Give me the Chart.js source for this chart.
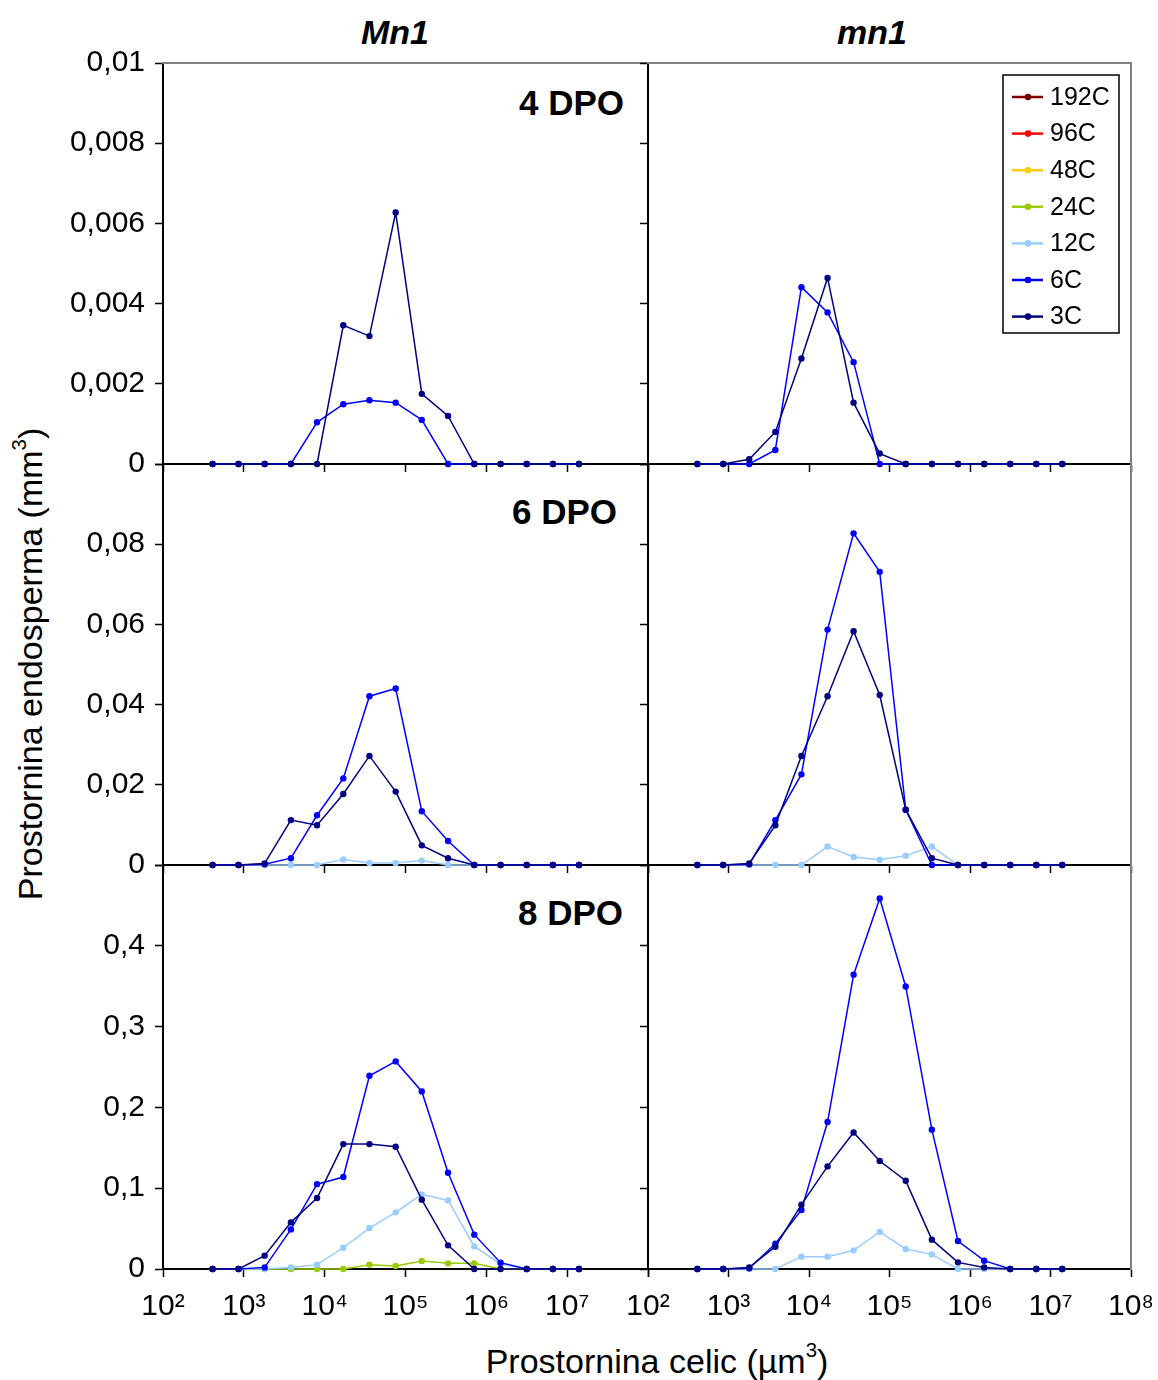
<!DOCTYPE html>
<html>
<head>
<meta charset="utf-8">
<script src="https://cdn.jsdelivr.net/npm/chart.js@4.4.1/dist/chart.umd.min.js"></script>
<style>
  body { margin: 0; background: #fff; }
  #fig { position: relative; width: 1158px; height: 1380px; font-family: "Liberation Sans", Arial, sans-serif; color: #000; }
  #fig canvas { position: absolute; }
  .txt { position: absolute; white-space: nowrap; transform: translate(-50%, -50%); }
  .col { font-size: 34px; font-weight: bold; font-style: italic; }
  .dpo { font-size: 35px; font-weight: bold; transform: translate(-100%, -50%); }
  .axt { font-size: 34px; }
  .axt sup { font-size: 0.6em; vertical-align: 0.75em; line-height: 0; }
</style>
</head>
<body>
<div id="fig">
  <div class="txt col" style="left:395px; top:32px;">Mn1</div>
  <div class="txt col" style="left:872px; top:32px;">mn1</div>
  <div class="txt dpo" style="left:624px; top:103px;">4 DPO</div>
  <div class="txt dpo" style="left:617px; top:512px;">6 DPO</div>
  <div class="txt dpo" style="left:623px; top:913px;">8 DPO</div>
  <div class="txt axt" style="left:30px; top:664px; transform: translate(-50%, -50%) rotate(-90deg);">Prostornina endosperma (mm<sup>3</sup>)</div>
  <div class="txt axt" style="left:657px; top:1361px;">Prostornina celic (µm<sup>3</sup>)</div>
</div>
<script>
// cell volume classes (µm3)
var sizes = [410, 860, 1810, 3820, 8050, 17000, 35800, 75600, 159000, 336000, 709000, 1500000, 3160000, 6660000, 14000000];
var xTickValues = [1e2, 1e3, 1e4, 1e5, 1e6, 1e7, 1e8];

var ploidy = ['192C', '96C', '48C', '24C', '12C', '6C', '3C'];
var colors = ['#800000', '#FF0000', '#FFCC00', '#99CC00', '#99CCFF', '#0000FF', '#000080'];

// 4 DPO
var d4_Mn1_6C = [0, 0, 0, 0, 0.00104, 0.00149, 0.00159, 0.00153, 0.0011, 0, 0, 0, 0, 0, 0];
var d4_Mn1_3C = [0, 0, 0, 0, 0, 0.00346, 0.00319, 0.00627, 0.00175, 0.0012, 0, 0, 0, 0, 0];
var d4_mn1_6C = [0, 0, 0, 0.00035, 0.00441, 0.00378, 0.00254, 0, 0, 0, 0, 0, 0, 0, 0];
var d4_mn1_3C = [0, 0, 0.00012, 0.0008, 0.00263, 0.00464, 0.00153, 0.00026, 0, 0, 0, 0, 0, 0, 0];

// 6 DPO
var d6_Mn1_12C = [0, 0, 0, 0, 0, 0.0014, 0.0005, 0.0005, 0.0011, 0, 0, 0, 0, 0, 0];
var d6_Mn1_6C = [0, 0, 0.0002, 0.0017, 0.0124, 0.0216, 0.0421, 0.0440, 0.0134, 0.0060, 0, 0, 0, 0, 0];
var d6_Mn1_3C = [0, 0, 0.0004, 0.0112, 0.0099, 0.0177, 0.0272, 0.0183, 0.0049, 0.0017, 0, 0, 0, 0, 0];
var d6_mn1_12C = [0, 0, 0, 0, 0, 0.0046, 0.0020, 0.0013, 0.0023, 0.0046, 0, 0, 0, 0, 0];
var d6_mn1_6C = [0, 0, 0.0002, 0.0112, 0.0226, 0.0587, 0.0827, 0.0731, 0.0138, 0, 0, 0, 0, 0, 0];
var d6_mn1_3C = [0, 0, 0.0004, 0.0099, 0.0272, 0.0421, 0.0583, 0.0424, 0.0138, 0.0017, 0, 0, 0, 0, 0];

// 8 DPO
var d8_Mn1_24C = [0, 0, 0, 0, 0, 0, 0.0054, 0.0037, 0.0099, 0.007, 0.007, 0, 0, 0, 0];
var d8_Mn1_12C = [0, 0, 0, 0.002, 0.0054, 0.0264, 0.0507, 0.0701, 0.0924, 0.0849, 0.028, 0.0062, 0, 0, 0];
var d8_Mn1_6C = [0, 0, 0.002, 0.049, 0.105, 0.1138, 0.2392, 0.2569, 0.2198, 0.1192, 0.0425, 0.0078, 0, 0, 0];
var d8_Mn1_3C = [0, 0, 0.0165, 0.0577, 0.0878, 0.1546, 0.1546, 0.1513, 0.0858, 0.0293, 0, 0, 0, 0, 0];
var d8_mn1_12C = [0, 0, 0, 0, 0.0153, 0.0153, 0.0231, 0.0458, 0.0247, 0.0181, 0, 0, 0, 0, 0];
var d8_mn1_6C = [0, 0, 0.001, 0.0313, 0.073, 0.1819, 0.3641, 0.4586, 0.3497, 0.1724, 0.0346, 0.0103, 0, 0, 0];
var d8_mn1_3C = [0, 0, 0.002, 0.0276, 0.0796, 0.127, 0.169, 0.1336, 0.1093, 0.0363, 0.0082, 0.002, 0, 0, 0];

var panels = [
    {row: 0, col: 0, max: 0.01, step: 0.002, series: {'6C': d4_Mn1_6C, '3C': d4_Mn1_3C}},
    {row: 0, col: 1, max: 0.01, step: 0.002, series: {'6C': d4_mn1_6C, '3C': d4_mn1_3C}, legend: true},
    {row: 1, col: 0, max: 0.1, step: 0.02, series: {'12C': d6_Mn1_12C, '6C': d6_Mn1_6C, '3C': d6_Mn1_3C}},
    {row: 1, col: 1, max: 0.1, step: 0.02, series: {'12C': d6_mn1_12C, '6C': d6_mn1_6C, '3C': d6_mn1_3C}},
    {row: 2, col: 0, max: 0.5, step: 0.1, series: {'24C': d8_Mn1_24C, '12C': d8_Mn1_12C, '6C': d8_Mn1_6C, '3C': d8_Mn1_3C}},
    {row: 2, col: 1, max: 0.5, step: 0.1, series: {'12C': d8_mn1_12C, '6C': d8_mn1_6C, '3C': d8_mn1_3C}},
];

// plot area of each panel on the page
var colLeft = [163, 648], colWidth = [485, 483];
var rowTop = [63, 464, 865], rowHeight = [401, 401, 404];
var PAD = 25;
var FONT = '"Liberation Sans", Arial, sans-serif';
var SUP = {2: '\u00B2', 3: '\u00B3', 4: '\u2074', 5: '\u2075', 6: '\u2076', 7: '\u2077', 8: '\u2078'};

Chart.defaults.font.family = FONT;
Chart.defaults.color = '#000';

// legend box drawn inside the plot area (top right)
var insideLegend = {
    id: 'insideLegend',
    afterDraw: function(chart) {
        var ctx = chart.ctx, a = chart.chartArea;
        var w = 116, h = 258;
        var left = a.right - 12 - w, top = a.top + 12;
        ctx.save();
        ctx.fillStyle = '#fff';
        ctx.fillRect(left, top, w, h);
        ctx.strokeStyle = '#000';
        ctx.lineWidth = 1.5;
        ctx.strokeRect(left, top, w, h);
        ctx.font = '25px ' + FONT;
        ctx.textBaseline = 'middle';
        chart.data.datasets.forEach(function(ds, i) {
            var y = top + 22 + i * 36.6;
            ctx.strokeStyle = ds.borderColor;
            ctx.lineWidth = 2.5;
            ctx.beginPath();
            ctx.moveTo(left + 9, y);
            ctx.lineTo(left + 40, y);
            ctx.stroke();
            ctx.fillStyle = ds.borderColor;
            ctx.beginPath();
            ctx.arc(left + 25, y, 3.3, 0, Math.PI * 2);
            ctx.fill();
            ctx.fillStyle = '#000';
            ctx.fillText(ds.label, left + 47, y + 1);
        });
        ctx.restore();
    }
};

var fig = document.getElementById('fig');

panels.forEach(function(p) {
    var yw = p.col === 0 ? 163 : 20;
    var xh = p.row === 2 ? 100 : 12;
    var cv = document.createElement('canvas');
    var cw = yw + colWidth[p.col] + PAD, ch = PAD + rowHeight[p.row] + xh;
    cv.width = cw; cv.height = ch;
    cv.style.left = (colLeft[p.col] - yw) + 'px';
    cv.style.top = (rowTop[p.row] - PAD) + 'px';
    cv.style.width = cw + 'px'; cv.style.height = ch + 'px';
    fig.appendChild(cv);

    var datasets = ploidy.map(function(name, i) {
        return {
            label: name,
            data: p.series[name] || [],
            borderColor: colors[i],
            backgroundColor: colors[i],
            borderWidth: 1.5,
            pointRadius: 3.2,
            pointBorderWidth: 0,
            tension: 0,
            clip: false,
            order: ploidy.length - 1 - i,
            xAxisID: 'x',
            yAxisID: 'y'
        };
    });

    var scales = {
        x: {
            type: 'logarithmic', min: 100, max: 1e8, position: 'bottom',
            afterBuildTicks: function(s) { s.ticks = xTickValues.map(function(v) { return {value: v}; }); },
            afterFit: function(s) { s.height = xh; s.paddingLeft = 0; s.paddingRight = 0; },
            grid: {drawOnChartArea: false, drawTicks: true, tickLength: 8, tickColor: '#000', tickWidth: 1.5},
            border: {display: true, color: '#000', width: 2},
            ticks: {
                display: p.row === 2, autoSkip: false, maxRotation: 0, padding: 12,
                font: {size: 30}, color: '#000',
                callback: function(v) {
                    var e = Math.round(Math.log10(v));
                    if (p.col === 0 && e === 8) return '';
                    return '10' + SUP[e];
                }
            }
        },
        y: {
            type: 'linear', min: 0, max: p.max, position: 'left',
            afterFit: function(s) { s.width = yw; s.paddingTop = 0; s.paddingBottom = 0; },
            grid: {drawOnChartArea: false, drawTicks: true, tickLength: 8, tickColor: '#000', tickWidth: 1.5},
            border: {display: true, color: '#000', width: 2},
            ticks: {
                display: p.col === 0, stepSize: p.step, padding: 10,
                font: {size: 30}, color: '#000',
                callback: function(v) {
                    if (p.row > 0 && Math.abs(v - p.max) < 1e-9) return '';
                    if (v === 0) return '0';
                    return String(parseFloat(v.toFixed(4))).replace('.', ',');
                }
            }
        }
    };
    if (p.row === 0) {
        scales.xTop = {
            type: 'linear', position: 'top', display: true,
            afterFit: function(s) { s.height = 0; },
            ticks: {display: false}, grid: {display: false},
            border: {display: true, color: '#808080', width: 2}
        };
    }
    if (p.col === 1) {
        scales.yRight = {
            type: 'linear', position: 'right', display: true,
            afterFit: function(s) { s.width = 0; },
            ticks: {display: false}, grid: {display: false},
            border: {display: true, color: '#808080', width: 2}
        };
    }

    new Chart(cv, {
        type: 'line',
        data: {labels: sizes, datasets: datasets},
        options: {
            responsive: false,
            animation: false,
            devicePixelRatio: 1,
            layout: {padding: {top: PAD, right: PAD, left: 0, bottom: 0}},
            plugins: {legend: {display: false}, tooltip: {enabled: false}},
            scales: scales
        },
        plugins: p.legend ? [insideLegend] : []
    });
});
</script>
</body>
</html>
